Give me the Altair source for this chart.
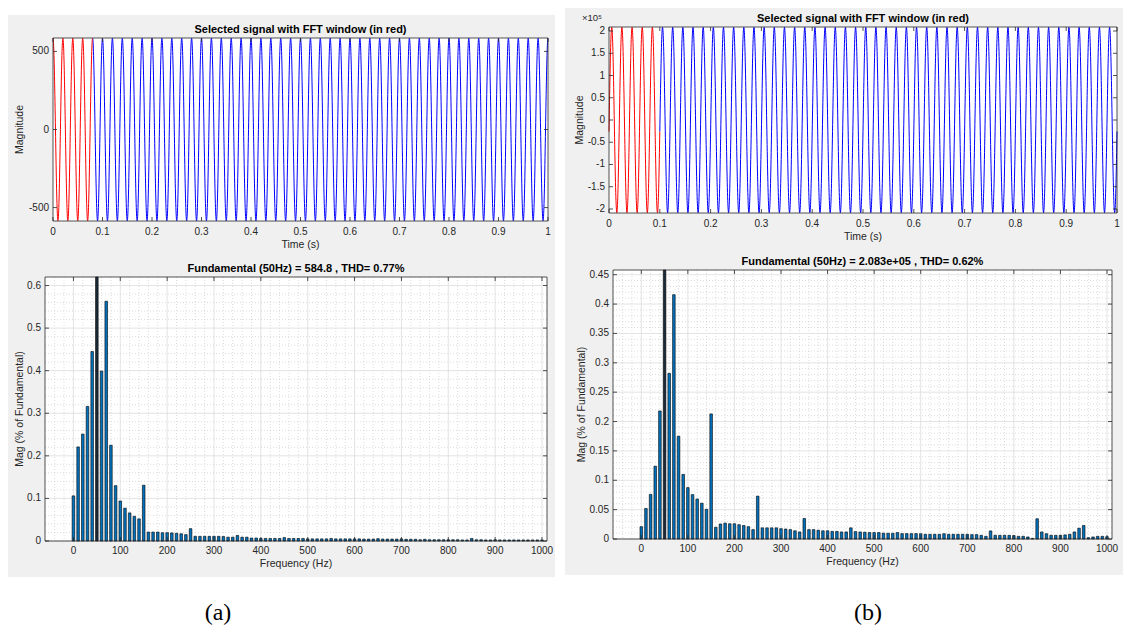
import numpy as np
import pandas as pd
import altair as alt

FONT = "Liberation Sans"
TXT = "#262626"
BLUE = "#0000FF"
RED = "#FF0000"
BARC = "#0072BD"
FUNDC = "#1B2A38"
PANEL = "#F0F0F0"

# ---------------- signal parameters ----------------
f0 = 50.0                 # Hz
amp_a = 584.8             # fundamental (a)
phase_a = np.pi / 2       # starts at its positive peak
win_a = 0.08              # FFT window end (4 cycles), s
amp_b = 2.083e5           # fundamental (b)
phase_b = -0.125          # starts slightly below zero, rising
win_b = 0.10              # FFT window end (5 cycles), s

# ---------------- spectra (% of fundamental), 0..1000 Hz step 10 ----------------
freqs = list(range(0, 1001, 10))
mag_a = [
    0.106, 0.221, 0.251, 0.316, 0.445, 100.0, 0.399, 0.563, 0.225, 0.130,
    0.094, 0.077, 0.066, 0.058, 0.052, 0.131, 0.021, 0.021, 0.021, 0.0195,
    0.0195, 0.019, 0.018, 0.017, 0.015, 0.029, 0.011, 0.011, 0.011, 0.011,
    0.011, 0.011, 0.0105, 0.009, 0.009, 0.013, 0.009, 0.009, 0.007, 0.007,
    0.006, 0.006, 0.006, 0.006, 0.006, 0.008, 0.006, 0.006, 0.006, 0.006,
    0.005, 0.005, 0.005, 0.005, 0.005, 0.006, 0.005, 0.005, 0.005, 0.005,
    0.005, 0.005, 0.0045, 0.0045, 0.0045, 0.0055, 0.0045, 0.0045, 0.0045, 0.0045,
    0.005, 0.004, 0.004, 0.004, 0.003, 0.004, 0.003, 0.003, 0.003, 0.003,
    0.003, 0.003, 0.003, 0.0025, 0.0025, 0.006, 0.003, 0.003, 0.0025, 0.0025,
    0.003, 0.0025, 0.0025, 0.0025, 0.0025, 0.0025, 0.0025, 0.0025, 0.0025, 0.0025,
    0.0025,
]
mag_b = [
    0.021, 0.052, 0.076, 0.124, 0.218, 100.0, 0.282, 0.416, 0.175, 0.110,
    0.0875, 0.0756, 0.068, 0.061, 0.0506, 0.213, 0.020, 0.0256, 0.027, 0.026,
    0.026, 0.0244, 0.023, 0.021, 0.016, 0.073, 0.019, 0.019, 0.019, 0.019,
    0.0176, 0.017, 0.016, 0.014, 0.012, 0.035, 0.016, 0.016, 0.015, 0.014,
    0.014, 0.013, 0.013, 0.012, 0.012, 0.019, 0.0126, 0.012, 0.0115, 0.011,
    0.011, 0.011, 0.010, 0.0098, 0.0098, 0.011, 0.0092, 0.0092, 0.0092, 0.0092,
    0.009, 0.008, 0.008, 0.008, 0.008, 0.009, 0.008, 0.008, 0.008, 0.008,
    0.008, 0.0075, 0.0075, 0.0063, 0.0046, 0.0138, 0.0063, 0.0063, 0.0063, 0.0063,
    0.0058, 0.0046, 0.0046, 0.0035, 0.001, 0.0345, 0.012, 0.009, 0.0063, 0.0063,
    0.0063, 0.007, 0.008, 0.012, 0.0184, 0.023, 0.0023, 0.0035, 0.0046, 0.0046,
    0.004,
]

# ---------------- axis ticks / labels ----------------
time_ticks = [round(i / 10, 1) for i in range(11)]
time_labels = [f"{v:g}" for v in time_ticks]
ya_top_ticks = [-500, 0, 500]
ya_top_labels = [f"{v:g}" for v in ya_top_ticks]
yb_top_ticks = [int(i * 50000) for i in range(-4, 5)]
yb_top_labels = [f"{v / 1e5:g}" for v in yb_top_ticks]
freq_ticks = list(range(0, 1001, 100))
freq_labels = [str(v) for v in freq_ticks]
freq_minor = [f for f in range(-40, 1000, 20) if f % 100 != 0]
ya_bot_ticks = [round(i / 10, 1) for i in range(0, 7)]
ya_bot_labels = [f"{v:g}" for v in ya_bot_ticks]
ya_bot_minor = [round(i / 50, 2) for i in range(1, 31) if i % 5 != 0]
yb_bot_ticks = [round(i * 0.05, 2) for i in range(0, 10)]
yb_bot_labels = [f"{v:g}" for v in yb_bot_ticks]
yb_bot_minor = [round(i / 100, 2) for i in range(1, 46) if i % 5 != 0]

title_top = "Selected signal with FFT window (in red)"
title_bot_a = "Fundamental (50Hz) = 584.8 , THD= 0.77%"
title_bot_b = "Fundamental (50Hz) = 2.083e+05 , THD= 0.62%"

one = pd.DataFrame({"k": [0]})


def rect_px(x0, x1, y0, y1, **mk):
    return alt.Chart(one).mark_rect(**mk).encode(
        x=alt.value(x0), x2=alt.value(x1), y=alt.value(y0), y2=alt.value(y1))


def text_px(s, x, y, **mk):
    return alt.Chart(pd.DataFrame({"c": [s]})).mark_text(**mk).encode(
        x=alt.value(x), y=alt.value(y), text="c:N")


def frame_layers(P, xs, ys, xt, xl, yt, yl, xtitle, ytitle, ytitle_dx, title,
                 L=4, xlab_dy=11, xtitle_dy=24):
    """ticks, box, tick labels, axis titles, panel title (all around plot box P)"""
    x0, x1, y0, y1 = P
    dx = pd.DataFrame({"v": xt, "lab": xl})
    dy = pd.DataFrame({"v": yt, "lab": yl})
    r = dict(color=TXT, strokeWidth=0.8)
    X = alt.X("v:Q", scale=xs, axis=None)
    Y = alt.Y("v:Q", scale=ys, axis=None)
    out = [
        alt.Chart(dx).mark_rule(**r).encode(x=X, y=alt.value(y1), y2=alt.value(y1 - L)),
        alt.Chart(dx).mark_rule(**r).encode(x=X, y=alt.value(y0), y2=alt.value(y0 + L)),
        alt.Chart(dy).mark_rule(**r).encode(y=Y, x=alt.value(x0), x2=alt.value(x0 + L)),
        alt.Chart(dy).mark_rule(**r).encode(y=Y, x=alt.value(x1 - L), x2=alt.value(x1)),
        rect_px(x0, x1, y0, y1, fill=None, stroke=TXT, strokeWidth=0.8),
        alt.Chart(dx).mark_text(font=FONT, fontSize=10, color=TXT, align="center",
                                baseline="middle").encode(
            x=X, y=alt.value(y1 + xlab_dy), text="lab:N"),
        alt.Chart(dy).mark_text(font=FONT, fontSize=10, color=TXT, align="right",
                                baseline="middle").encode(
            y=Y, x=alt.value(x0 - 4), text="lab:N"),
        text_px(xtitle, (x0 + x1) / 2, y1 + xtitle_dy, font=FONT, fontSize=10.5,
                color=TXT, align="center", baseline="middle"),
        text_px(ytitle, x0 - ytitle_dx, (y0 + y1) / 2, font=FONT, fontSize=10.5,
                color=TXT, align="center", baseline="middle", angle=270),
        text_px(title, (x0 + x1) / 2, y0 - 8, font=FONT, fontSize=11,
                fontWeight="bold", color="#000000", align="center", baseline="middle"),
    ]
    return out


# ---------------- time-domain panels ----------------
t = np.linspace(0.0, 1.0, 4001)


def signal_panel(amp, phase, win, W, H, gray, P, ydom, yt, yl, ytitle_dx, extra=None):
    x0, x1, y0, y1 = P
    v = amp * np.sin(2 * np.pi * f0 * t + phase)
    df = pd.DataFrame({"t": t, "v": v})
    blue = df[df.t >= win]
    red = df[df.t <= win]
    xs = alt.Scale(domain=[0, 1], range=[x0, x1], nice=False, zero=False)
    ys = alt.Scale(domain=ydom, range=[y1, y0], nice=False, zero=False, clamp=True)
    X = alt.X("t:Q", scale=xs, axis=None)
    Y = alt.Y("v:Q", scale=ys, axis=None)
    layers = [
        rect_px(*gray, fill=PANEL),
        rect_px(x0, x1, y0, y1, fill="white"),
        alt.Chart(blue).mark_line(color=BLUE, strokeWidth=1).encode(x=X, y=Y),
        alt.Chart(red).mark_line(color=RED, strokeWidth=1).encode(x=X, y=Y),
    ]
    layers += frame_layers(P, xs, ys, time_ticks, time_labels, yt, yl, "Time (s)",
                           "Magnitude", ytitle_dx, title_top)
    if extra is not None:
        layers += extra
    return alt.layer(*layers).properties(width=W, height=H)


def spectrum_panel(mags, W, H, gray, P, ytop, yt, yl, yminor, title, ytitle_dx,
                   caption, cap_xy):
    x0, x1, y0, y1 = P
    df = pd.DataFrame({"f": freqs, "m": mags})
    harm = df[df.f != f0]
    fund = df[df.f == f0]
    xs = alt.Scale(domain=[-50, 1000], range=[x0, x1], nice=False, zero=False)
    ys = alt.Scale(domain=[0, ytop], range=[y1, y0], nice=False, zero=False, clamp=True)
    X = alt.X("v:Q", scale=xs, axis=None)
    Y = alt.Y("v:Q", scale=ys, axis=None)
    minor = dict(color="#C4C4C4", strokeWidth=0.6, strokeDash=[1, 2])
    major = dict(color="#DCDCDC", strokeWidth=0.8)
    XB = alt.X("f:Q", scale=xs, axis=None)
    YB = alt.Y("m:Q", scale=ys, axis=None)
    layers = [
        rect_px(*gray, fill=PANEL),
        rect_px(x0, x1, y0, y1, fill="white"),
        alt.Chart(pd.DataFrame({"v": freq_minor})).mark_rule(**minor).encode(
            x=X, y=alt.value(y0), y2=alt.value(y1)),
        alt.Chart(pd.DataFrame({"v": yminor})).mark_rule(**minor).encode(
            y=Y, x=alt.value(x0), x2=alt.value(x1)),
        alt.Chart(pd.DataFrame({"v": freq_ticks})).mark_rule(**major).encode(
            x=X, y=alt.value(y0), y2=alt.value(y1)),
        alt.Chart(pd.DataFrame({"v": yt})).mark_rule(**major).encode(
            y=Y, x=alt.value(x0), x2=alt.value(x1)),
        alt.Chart(harm).mark_bar(size=2.6, color=BARC, stroke="#000000",
                                 strokeWidth=0.6).encode(x=XB, y=YB),
        alt.Chart(fund).mark_bar(size=2.6, color=FUNDC, stroke="#000000",
                                 strokeWidth=0.6).encode(x=XB, y=YB),
    ]
    layers += frame_layers(P, xs, ys, freq_ticks, freq_labels, yt, yl,
                           "Frequency (Hz)", "Mag (% of Fundamental)", ytitle_dx, title,
                           xlab_dy=10, xtitle_dy=23)
    layers.append(text_px(caption, cap_xy[0], cap_xy[1], font="Liberation Serif",
                          fontSize=24, color="#000000", align="center",
                          baseline="alphabetic"))
    return alt.layer(*layers).properties(width=W, height=H)


# exponent label for panel (b): plot box of top (b) starts at x=44, y=19
exp_b = text_px("×10⁵", 44 - 27, 19 - 4, font=FONT, fontSize=9.5, color=TXT,
                align="left", baseline="bottom")

top_a = signal_panel(amp_a, phase_a, win_a, 552, 248, gray=(0, 547, 7, 248),
                     P=(45, 540, 30, 213), ydom=[-586, 586], yt=ya_top_ticks,
                     yl=ya_top_labels, ytitle_dx=33)
bot_a = spectrum_panel(mag_a, 552, 370, gray=(0, 547, 0, 321), P=(37, 539, 21, 285),
                       ytop=0.62, yt=ya_bot_ticks, yl=ya_bot_labels, yminor=ya_bot_minor,
                       title=title_bot_a, ytitle_dx=25, caption="(a)", cap_xy=(210, 364))
top_b = signal_panel(amp_b, phase_b, win_b, 558, 248, gray=(0, 558, 0, 248),
                     P=(44, 552, 19, 205), ydom=[-2.09e5, 2.09e5], yt=yb_top_ticks,
                     yl=yb_top_labels, ytitle_dx=29, extra=[exp_b])
bot_b = spectrum_panel(mag_b, 558, 370, gray=(0, 558, 0, 319), P=(48, 547, 14, 283),
                       ytop=0.458, yt=yb_bot_ticks, yl=yb_bot_labels, yminor=yb_bot_minor,
                       title=title_bot_b, ytitle_dx=31, caption="(b)", cap_xy=(303, 364))

col_a = alt.vconcat(top_a, bot_a, spacing=0)
col_b = alt.vconcat(top_b, bot_b, spacing=0)

chart = alt.hconcat(col_a, col_b, spacing=5).properties(
    padding=0, background="white"
).configure_view(strokeWidth=0)

chart.save("out.html", embed_options={"renderer": "svg", "actions": False})
